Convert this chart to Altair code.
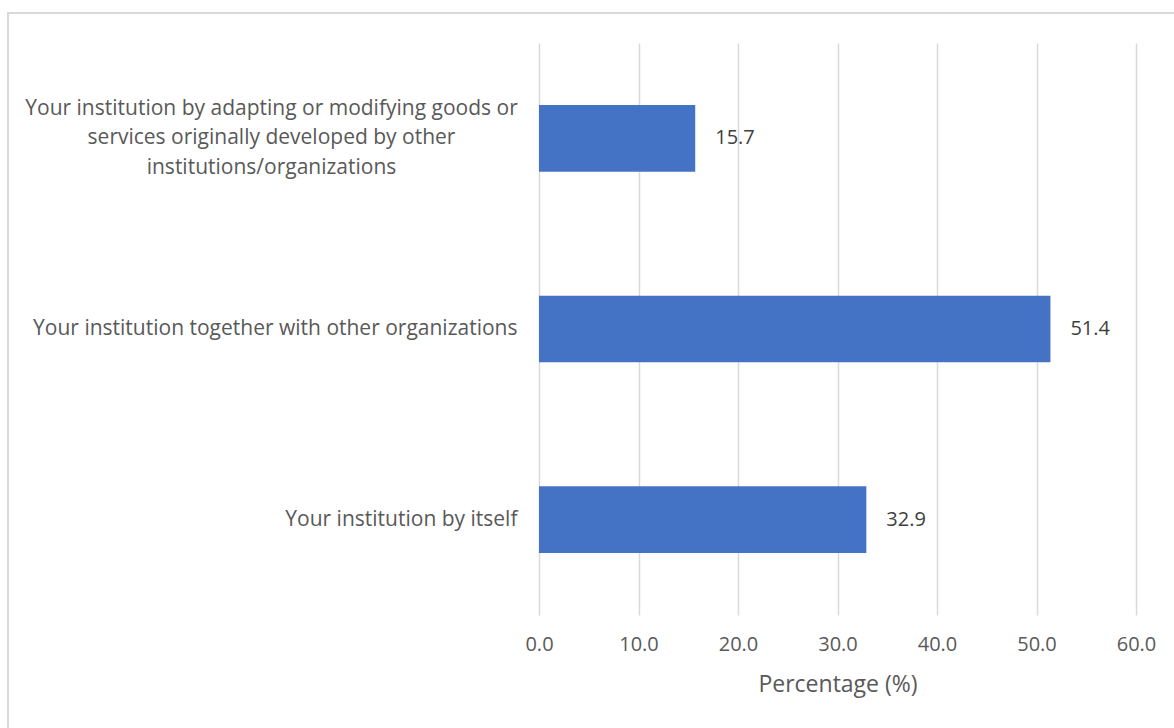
import altair as alt
import pandas as pd

categories = [
    "Your institution by adapting or modifying goods or|services originally developed by other|institutions/organizations",
    "Your institution together with other organizations",
    "Your institution by itself",
]
values = [15.7, 51.4, 32.9]
x_ticks = [0, 10, 20, 30, 40, 50, 60]

df = pd.DataFrame({"category": categories, "value": values})

FONT = "Open Sans"
GRAY = "#595959"
first = categories[0]

y_enc = alt.Y(
    "category:N",
    sort=categories,
    scale=alt.Scale(paddingInner=0.65, paddingOuter=0.325),
    axis=alt.Axis(
        title=None,
        domain=False,
        ticks=False,
        labelExpr="split(datum.label, '|')",
        labelFont=FONT,
        labelFontSize=21,
        labelColor=GRAY,
        labelLineHeight=29.5,
        labelLimit=1000,
        labelAlign=alt.condition(f"datum.value == '{first}'", alt.value("center"), alt.value("right")),
        labelPadding=alt.condition(f"datum.value == '{first}'", alt.value(268), alt.value(22)),
        labelOffset=alt.condition(f"datum.value == '{first}'", alt.value(-29.5), alt.value(0)),
    ),
)

x_enc = alt.X(
    "value:Q",
    scale=alt.Scale(domain=[0, 60], nice=False),
    axis=alt.Axis(
        values=x_ticks,
        format=".1f",
        title="Percentage (%)",
        domain=False,
        ticks=False,
        grid=True,
        gridColor="#d9d9d9",
        gridWidth=1.5,
        labelFlush=False,
        labelFont=FONT,
        labelFontSize=20,
        labelColor=GRAY,
        labelPadding=19,
        titleFont=FONT,
        titleFontSize=23,
        titleFontWeight="normal",
        titleColor=GRAY,
        titlePadding=19,
    ),
)

bars = alt.Chart(df).mark_bar(color="#4472C4").encode(x=x_enc, y=y_enc)

labels = alt.Chart(df).mark_text(
    align="left", baseline="middle", dx=20, font=FONT, fontSize=20, color="#404040"
).encode(x="value:Q", y=alt.Y("category:N", sort=categories), text=alt.Text("value:Q", format=".1f"))

border = alt.Chart(alt.Data(values=[{}])).mark_rect(
    fill=None, stroke="#d9d9d9", strokeWidth=2
).encode(x=alt.value(-531), x2=alt.value(700), y=alt.value(-30), y2=alt.value(800))

chart = alt.layer(border, bars, labels).properties(
    width=597,
    height=572,
    autosize=alt.AutoSizeParams(type="none"),
    padding={"left": 539, "top": 43, "right": 38, "bottom": 113},
    background="white",
).configure_view(stroke=None)

chart.save("out.html", embed_options={"renderer": "svg", "actions": False})
